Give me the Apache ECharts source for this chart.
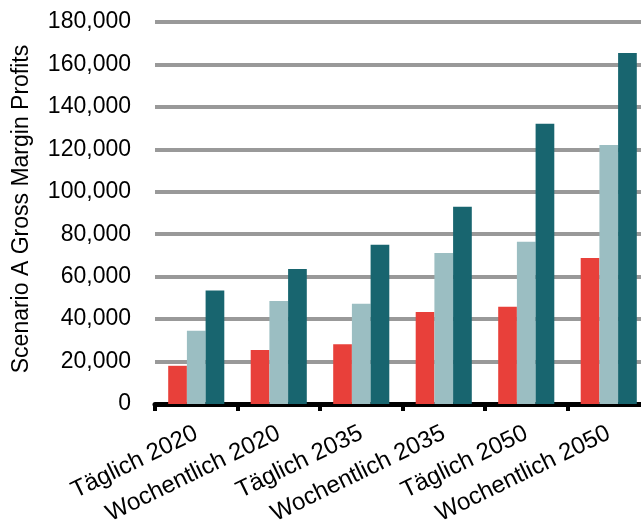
<!DOCTYPE html>
<html>
<head>
<meta charset="utf-8">
<script src="https://cdn.jsdelivr.net/npm/echarts@6/dist/echarts.min.js"></script>
<style>
  html, body { margin: 0; padding: 0; background: #fff; }
  #chart { width: 641px; height: 520px; }
</style>
</head>
<body>
<div id="chart"></div>
<script>
// categories and values
let categories = ['Täglich 2020', 'Wochentlich 2020', 'Täglich 2035', 'Wochentlich 2035', 'Täglich 2050', 'Wochentlich 2050']
let redData = [18000, 25500, 28200, 43300, 45800, 68800]
let lightData = [34500, 48500, 47200, 71200, 76400, 122000]
let tealData = [53500, 63600, 75000, 92900, 132100, 165400]

let font = 'Liberation Sans, Arial, sans-serif'

let myChart = echarts.init(document.getElementById('chart'))
myChart.setOption({
  animation: false,
  grid: {
    left: 155,
    right: -9,
    top: 22,
    bottom: 116,
    outerBoundsMode: 'none',
    containLabel: false
  },
  xAxis: {
    type: 'category',
    data: categories,
    axisLine: { lineStyle: { color: '#000', width: 5 } },
    axisTick: { show: true, length: 7, lineStyle: { color: '#000', width: 4 } },
    axisLabel: {
      rotate: 26,
      interval: 0,
      margin: 28,
      fontSize: 24,
      color: '#000',
      fontFamily: font
    }
  },
  yAxis: {
    type: 'value',
    min: 0,
    max: 180000,
    interval: 20000,
    name: 'Scenario A Gross Margin Profits',
    nameLocation: 'middle',
    nameGap: 122,
    nameTextStyle: { fontSize: 23, color: '#000', fontFamily: font, padding: [0, 0, 0, 8] },
    axisLine: { show: false },
    axisTick: { show: false },
    splitLine: { lineStyle: { color: '#999', width: 4 } },
    axisLabel: {
      margin: 24,
      fontSize: 23,
      color: '#000',
      fontFamily: font,
      formatter: function (v) { return v.toLocaleString('en-US') }
    }
  },
  series: [
    { name: 'a', type: 'bar', barGap: 0, barCategoryGap: '32%', data: redData, itemStyle: { color: '#e8403a' } },
    { name: 'b', type: 'bar', barGap: 0, barCategoryGap: '32%', data: lightData, itemStyle: { color: '#9bbec2' } },
    { name: 'c', type: 'bar', barGap: 0, barCategoryGap: '32%', data: tealData, itemStyle: { color: '#18656f' } }
  ]
})
</script>
</body>
</html>
